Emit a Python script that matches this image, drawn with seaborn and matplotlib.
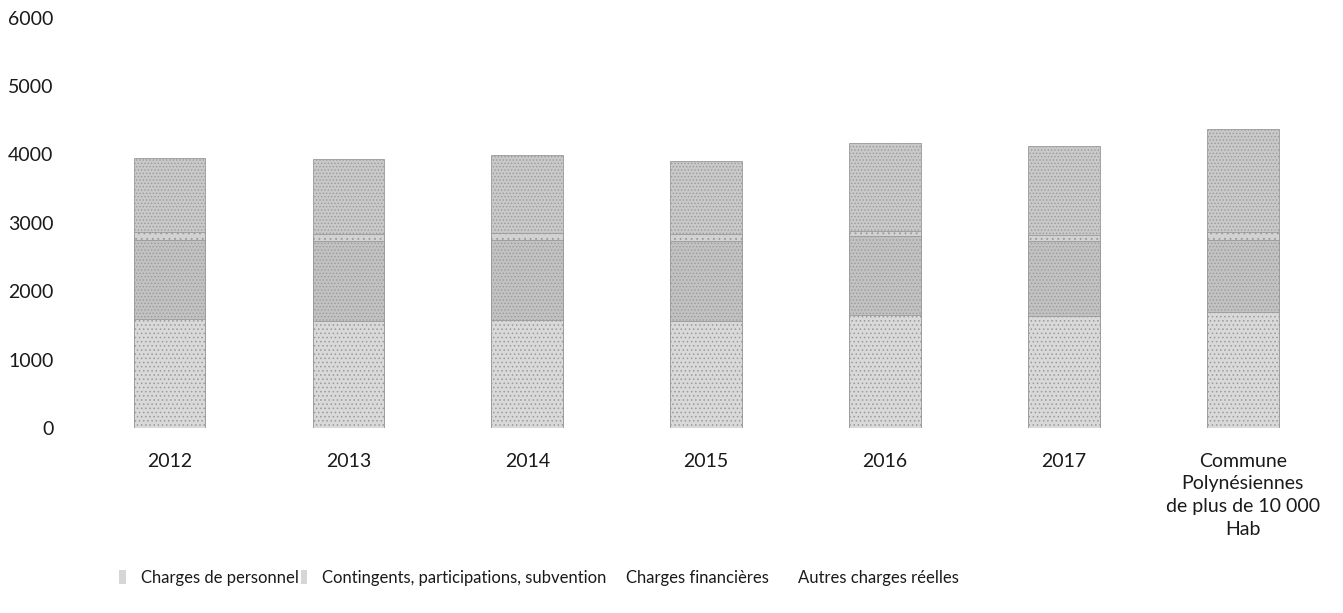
import matplotlib
matplotlib.use("Agg")
import matplotlib.pyplot as plt
import numpy as np
import pandas as pd
import seaborn as sns
from matplotlib.patches import Patch

categories = ['2012', '2013', '2014', '2015', '2016', '2017',
              'Commune\nPolynésiennes\nde plus de 10 000\nHab']
series = ['Charges de personnel', 'Contingents, participations, subvention',
          'Charges financières', 'Autres charges réelles']
personnel = [1600, 1570, 1580, 1560, 1650, 1640, 1700]
contingents = [1150, 1160, 1170, 1180, 1150, 1100, 1050]
financieres = [110, 100, 100, 90, 80, 80, 120]
autres = [1090, 1100, 1140, 1070, 1290, 1310, 1510]

colors = ['#d9d9d9', '#c2c2c2', '#d2d2d2', '#c9c9c9']
hatches = ['....', '.....', '...', '.....']
legend_x = [0.0886, 0.224, 0.450, 0.578]
legend_alpha = [0.6, 0.6, 0.0, 0.0]

sns.set_style('white')
plt.rcParams['font.family'] = ['Lato', 'DejaVu Sans']
plt.rcParams['hatch.color'] = '#7a7a7a'
plt.rcParams['hatch.linewidth'] = 0.6

vals = np.array([personnel, contingents, financieres, autres])
cum = np.cumsum(vals, axis=0)

fig = plt.figure(figsize=(13.43, 6.13), dpi=100)
ax = fig.add_axes([0.0596, 0.302, 0.9324, 0.669])

# cumulative layers drawn top-down, each lower one covers the upper
for i in range(len(series) - 1, -1, -1):
    df = pd.DataFrame({'cat': categories, 'val': cum[i]})
    sns.barplot(data=df, x='cat', y='val', ax=ax, color=colors[i],
                width=0.4, saturation=1, order=categories)
    for p in ax.patches[-len(categories):]:
        p.set_hatch(hatches[i])
        p.set_edgecolor('#9a9a9a')
        p.set_linewidth(0.6)

ax.set_ylim(0, 6000)
ax.set_xlim(-0.5, 6.5)
ax.set_yticks(range(0, 6001, 1000))
ax.set_xlabel('')
ax.set_ylabel('')
sns.despine(ax=ax, left=True, bottom=True)
ax.tick_params(axis='both', length=0, labelsize=14, colors='#1a1a1a')
ax.tick_params(axis='y', pad=19)
ax.tick_params(axis='x', pad=18)
for t in ax.get_xticklabels():
    t.set_linespacing(1.4)

for i, name in enumerate(series):
    h = Patch(facecolor='#bbbbbb', alpha=legend_alpha[i], edgecolor='none')
    fig.legend([h], [name], loc='center left', bbox_to_anchor=(legend_x[i], 0.057),
               frameon=False, fontsize=12, handlelength=0.4, handleheight=0.9,
               handletextpad=0.9, labelcolor='#1a1a1a', borderpad=0, borderaxespad=0)

fig.savefig('out.png', dpi=100)
